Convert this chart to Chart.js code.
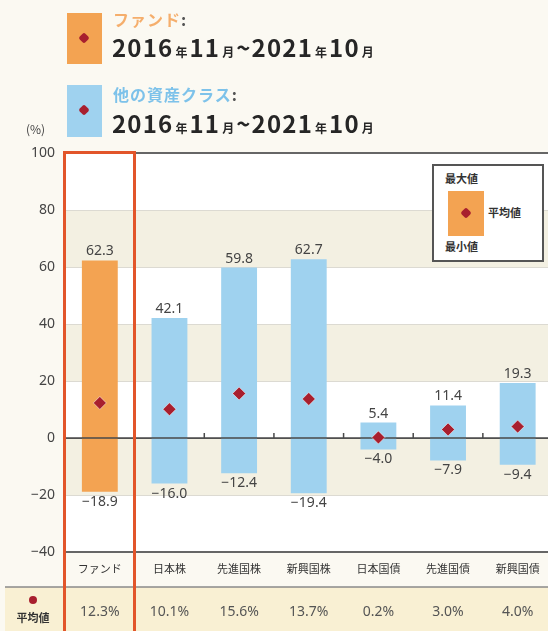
<!DOCTYPE html>
<html lang="ja">
<head>
<meta charset="utf-8">
<script src="https://cdn.jsdelivr.net/npm/chart.js@4"></script>
<style>
  body { margin: 0; background: #fbf9f2; overflow: hidden; font-family: "Noto Sans CJK JP", "Noto Sans", sans-serif; }
  #wrap { position: relative; width: 548px; height: 631px; overflow: hidden; }
  canvas { position: absolute; left: 0; top: 0; }
  .abs { position: absolute; }
  .sq { position: absolute; }
  .dot { position: absolute; width: 8px; height: 8px; background: #a81f2e; transform: rotate(45deg); border-radius: 2px; }
  .cap { font-size: 16px; font-weight: 700; letter-spacing: 1px; white-space: nowrap; }
  .date { font-size: 24px; font-weight: 700; color: #262626; letter-spacing: 1.2px; white-space: nowrap; }
  .date small { font-size: 12px; letter-spacing: 0; margin: 0 2px; }
  .lg { font-size: 11px; font-weight: 700; color: #333; white-space: nowrap; }
</style>
</head>
<body>
<div id="wrap">
  <canvas id="chart" width="560" height="631"></canvas>

  <!-- header legend -->
  <div class="sq" style="left:67px;top:13px;width:35px;height:51px;background:#f3a352">
    <div class="dot" style="left:13px;top:21px"></div>
  </div>
  <div class="abs cap" style="left:113px;top:7px;color:#f5ae6c">ファンド<span style="color:#555">:</span></div>
  <div class="abs date" style="left:112px;top:29px">2016<small>年</small>11<small>月</small>~2021<small>年</small>10<small>月</small></div>

  <div class="sq" style="left:67px;top:85px;width:35px;height:52px;background:#9fd2ef">
    <div class="dot" style="left:13px;top:21px"></div>
  </div>
  <div class="abs cap" style="left:113px;top:82px;color:#7dc2ea">他の資産クラス<span style="color:#555">:</span></div>
  <div class="abs date" style="left:112px;top:105px">2016<small>年</small>11<small>月</small>~2021<small>年</small>10<small>月</small></div>

  <div class="abs" style="left:26px;top:120px;font-size:12px;color:#444">(%)</div>

  <!-- inset legend -->
  <div class="abs" style="left:432px;top:164px;width:112px;height:98px;box-sizing:border-box;border:2px solid #555;background:#fff">
    <div class="abs lg" style="left:11px;top:4px">最大値</div>
    <div class="sq" style="left:14px;top:25px;width:36px;height:45px;background:#f3a352">
      <div class="dot" style="left:14px;top:18px"></div>
    </div>
    <div class="abs lg" style="left:54px;top:38px">平均値</div>
    <div class="abs lg" style="left:11px;top:72px">最小値</div>
  </div>

  <!-- highlight frame round the fund column -->
  <div class="abs" style="left:63px;top:151px;width:73px;height:500px;box-sizing:border-box;border:3.5px solid #e2552a"></div>
</div>

<script>
const categories = ['ファンド', '日本株', '先進国株', '新興国株', '日本国債', '先進国債', '新興国債'];
const maxValues = [62.3, 42.1, 59.8, 62.7, 5.4, 11.4, 19.3];
const minValues = [-18.9, -16.0, -12.4, -19.4, -4.0, -7.9, -9.4];
const avgValues = [12.3, 10.1, 15.6, 13.7, 0.2, 3.0, 4.0];
const yTicks = [100, 80, 60, 40, 20, 0, -20, -40];
const bandRanges = [[80, 60], [40, 20], [0, -20]];

const ORANGE = '#f3a352';
const BLUE = '#9fd2ef';
const DOT = '#a81f2e';

function fmt(v) {
  return v.toFixed(1).replace('-', '−');
}

const backdrop = {
  id: 'backdrop',
  beforeDraw(chart) {
    const { ctx, chartArea: a, scales: { y } } = chart;
    ctx.save();
    ctx.fillStyle = '#fbf9f2';
    ctx.fillRect(0, 0, chart.width, chart.height);
    ctx.fillStyle = '#fff';
    ctx.fillRect(a.left, a.top, a.right - a.left, a.bottom - a.top);
    ctx.fillStyle = '#f3f0e2';
    bandRanges.forEach(([hi, lo]) => {
      const t = y.getPixelForValue(hi), b = y.getPixelForValue(lo);
      ctx.fillRect(a.left, t, a.right - a.left, b - t);
    });
    // average row
    ctx.fillStyle = '#f9f0d3';
    ctx.fillRect(5, 587, chart.width, chart.height - 587);
    ctx.strokeStyle = '#8a8a8a';
    ctx.lineWidth = 1.5;
    ctx.beginPath();
    ctx.moveTo(5, 587);
    ctx.lineTo(chart.width, 587);
    ctx.stroke();
    ctx.restore();
  },
  afterDatasetDraw(chart, args) {
    if (args.meta.type !== 'bar') return;
    const { ctx, chartArea: a, scales: { y } } = chart;
    const y0 = y.getPixelForValue(0);
    ctx.save();
    ctx.strokeStyle = '#4a4a4a';
    ctx.lineWidth = 1.5;
    ctx.beginPath();
    ctx.moveTo(a.left, y0);
    ctx.lineTo(a.right, y0);
    const step = (a.right - a.left) / categories.length;
    for (let i = 1; i < categories.length; i++) {
      const bx = a.left + i * step;
      ctx.moveTo(bx, y0);
      ctx.lineTo(bx, y0 - 5);
    }
    ctx.stroke();
    ctx.restore();
  },
  afterDraw(chart) {
    const { ctx, scales: { x, y } } = chart;
    ctx.save();
    ctx.fillStyle = '#444';
    ctx.font = '14px "Noto Sans"';
    ctx.textAlign = 'center';
    categories.forEach((c, i) => {
      const cx = x.getPixelForTick(i);
      ctx.textBaseline = 'bottom';
      ctx.fillText(fmt(maxValues[i]), cx, y.getPixelForValue(maxValues[i]) - 2);
      ctx.textBaseline = 'top';
      ctx.fillText(fmt(minValues[i]), cx, y.getPixelForValue(minValues[i]) + 3);
    });
    // averages row
    ctx.fillStyle = '#555';
    ctx.textBaseline = 'middle';
    ctx.font = '14px "Noto Sans"';
    categories.forEach((c, i) => {
      ctx.fillText(avgValues[i].toFixed(1) + '%', x.getPixelForTick(i), 612);
    });
    ctx.fillStyle = '#333';
    ctx.font = 'bold 11px "Noto Sans CJK JP"';
    ctx.fillText('平均値', 33, 618);
    ctx.fillStyle = DOT;
    ctx.beginPath();
    ctx.arc(33, 600, 4, 0, Math.PI * 2);
    ctx.fill();
    ctx.restore();
  }
};

new Chart(document.getElementById('chart'), {
  data: {
    labels: categories,
    datasets: [
      {
        type: 'bar',
        order: 2,
        data: categories.map((c, i) => [minValues[i], maxValues[i]]),
        backgroundColor: categories.map((c, i) => i === 0 ? ORANGE : BLUE),
        borderWidth: 0,
        borderSkipped: false,
        barPercentage: 0.515,
        categoryPercentage: 1
      },
      {
        type: 'line',
        order: 1,
        data: avgValues,
        showLine: false,
        pointStyle: 'rectRot',
        pointRadius: 6.5,
        pointBackgroundColor: DOT,
        pointBorderColor: 'rgba(255,255,255,0.5)',
        pointBorderWidth: 1
      }
    ]
  },
  plugins: [backdrop],
  options: {
    responsive: false,
    animation: false,
    layout: { padding: { top: 153, right: 5, left: 0, bottom: 0 } },
    plugins: { legend: { display: false }, tooltip: { enabled: false } },
    scales: {
      x: {
        type: 'category',
        offset: true,
        grid: { display: false, drawTicks: false },
        border: { display: false },
        ticks: { color: '#333', font: { size: 11, family: '"Noto Sans CJK JP"' }, padding: 10, maxRotation: 0 },
        afterFit: s => { s.height = 79; }
      },
      y: {
        min: -40,
        max: 100,
        afterBuildTicks: s => { s.ticks = yTicks.map(v => ({ value: v })); },
        grid: {
          drawTicks: false,
          color: c => [100, 0, -40].includes(c.tick.value) ? '#666' : '#dcdad2',
          lineWidth: c => [100, -40].includes(c.tick.value) ? 2 : 1
        },
        border: { display: false },
        ticks: {
          color: '#444',
          font: { size: 14, family: '"Noto Sans"' },
          padding: 10,
          callback: v => String(v).replace('-', '−')
        },
        afterFit: s => { s.width = 65; }
      }
    }
  }
});
</script>
</body>
</html>
